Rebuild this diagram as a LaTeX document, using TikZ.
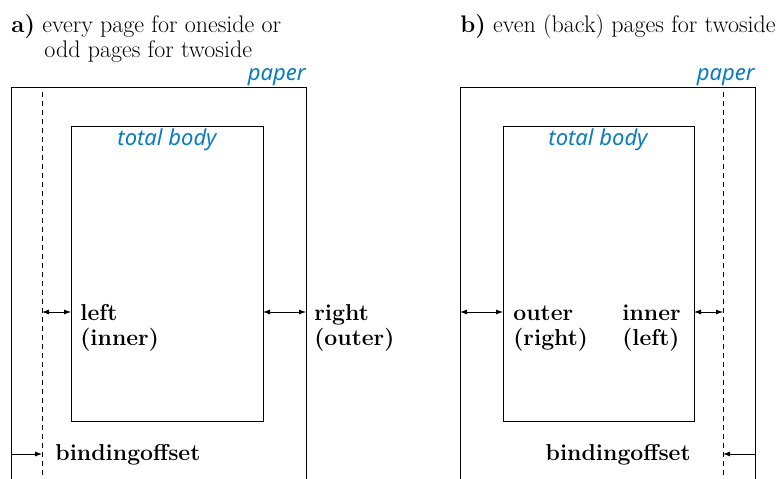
\documentclass[tikz,border=0pt]{standalone}
\usepackage{fontspec}
\newfontfamily\labelfont{Noto Sans}
\usetikzlibrary{arrows.meta}
\definecolor{areablue}{HTML}{0A7BC0}

\begin{document}
\begin{tikzpicture}[x=1pt, y=-1pt, line width=0.8pt,
    measure/.style={{Latex[length=7pt,width=5pt]}-{Latex[length=7pt,width=5pt]}},
    offsetline/.style={dash pattern=on 5pt off 4pt},
    areaname/.style={font=\labelfont\itshape\fontsize{22}{25}\selectfont, text=areablue, inner sep=0pt},
    boldtext/.style={font=\bfseries\fontsize{23}{25}\selectfont, align=left, inner sep=0pt},
    headtext/.style={font=\fontsize{24}{25}\selectfont, align=left, inner sep=0pt}]

    \useasboundingbox (0,0) rectangle (779,479);
    \clip (0,0) rectangle (779,479);

    % a) one side / odd pages
    \node[headtext, anchor=base west] (heada) at (11,57) {\textbf{a)} every page for oneside or\\\hspace*{33pt}odd pages for twoside};

    \draw (11,520) -- (11,87) -- (306,87) -- (306,520);
    \node[areaname, anchor=base east] (papera) at (306,80) {paper};
    \draw[offsetline] (42,92) -- (42,520);
    \draw (71,126) rectangle (263,421);
    \node[areaname, anchor=base] (bodya) at (167,145) {total body};

    \coordinate (bindla) at (42,312);
    \coordinate (bodyla) at (71,312);
    \coordinate (bodyra) at (263,312);
    \coordinate (papra) at (306,312);
    \draw[measure] (bindla) -- (bodyla);
    \draw[measure] (bodyra) -- (papra);
    \node[boldtext, anchor=base west] (lefta) at (80,345) {left\\(inner)};
    \node[boldtext, anchor=base west] (righta) at (314,345) {right\\(outer)};

    \coordinate (papla) at (11,454);
    \coordinate (offa) at (42,454);
    \draw[-{Latex[length=7pt,width=5pt]}] (papla) -- (offa);
    \node[boldtext, anchor=base west] (offseta) at (55,460) {bindingoffset};

    % b) even pages
    \node[headtext, anchor=base west] (headb) at (460,32) {\textbf{b)} even (back) pages for twoside};

    \draw (460,520) -- (460,87) -- (755,87) -- (755,520);
    \node[areaname, anchor=base east] (paperb) at (755,80) {paper};
    \draw[offsetline] (723,92) -- (723,520);
    \draw (503,126) rectangle (694,421);
    \node[areaname, anchor=base] (bodyb) at (598,145) {total body};

    \coordinate (paplb) at (460,312);
    \coordinate (bodylb) at (503,312);
    \coordinate (bodyrb) at (694,312);
    \coordinate (bindrb) at (723,312);
    \draw[measure] (paplb) -- (bodylb);
    \draw[measure] (bodyrb) -- (bindrb);
    \node[boldtext, anchor=base west] (outerb) at (513,345) {outer\\(right)};
    \node[boldtext, anchor=base west] (innerb) at (622,345) {inner\\(left)};

    \coordinate (paprb) at (755,454);
    \coordinate (offb) at (723,454);
    \draw[-{Latex[length=7pt,width=5pt]}] (paprb) -- (offb);
    \node[boldtext, anchor=base east] (offsetb) at (691,460) {bindingoffset};

\end{tikzpicture}
\end{document}
